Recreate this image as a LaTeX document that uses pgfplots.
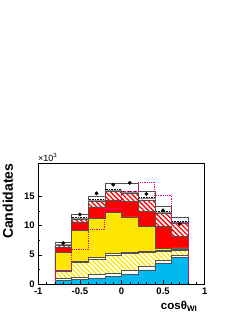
\documentclass[border=0pt]{standalone}
\usepackage{fontspec}
\setmainfont{Liberation Sans}
\usepackage{pgfplots}
\pgfplotsset{compat=1.18}
\usetikzlibrary{patterns.meta}
\definecolor{rootcyan}{RGB}{0,185,240}
\definecolor{rootyellow}{RGB}{255,230,0}
\definecolor{outl}{RGB}{80,80,80}
\begin{document}
\begin{tikzpicture}[x=1pt,y=1pt]
\path[use as bounding box] (0,0) rectangle (245,317);
\begin{axis}[at={(38.3pt,33pt)}, anchor=south west,
 width=166.4pt, height=120.7pt, scale only axis,
 xmin=-1, xmax=1, ymin=0, ymax=20.65,
 xtick={-1,-0.5,0,0.5,1}, xticklabels={-1,-0.5,0,0.5,1}, minor x tick num=4,
 ytick={0,5,10,15}, yticklabels={0,5,10,15}, minor y tick num=1,
 tick align=inside, xtick pos=bottom, ytick pos=left,
 major tick length=4pt, minor tick length=2pt,
 tick style={black, line width=0.5pt},
 axis line style={line width=0.6pt},
 /pgf/number format/assume math mode=true,
 ticklabel style={font=\fontsize{9.5}{10}\selectfont\bfseries},
 xticklabel style={yshift=-0.5pt},
 axis on top,
 hist/.style={const plot, line width=0.5pt},
]
% top white box
\addplot[hist, fill=white, draw=outl] coordinates {(-0.8,7.15) (-0.6,11.9) (-0.4,15.05) (-0.2,17.2) (0,17.3) (0.2,15.8) (0.4,13.3) (0.6,11.4) (0.8,11.4)} \closedcycle;
% dotted line
\addplot[const plot, draw=black, densely dotted, line width=0.6pt] coordinates {(-0.8,6.85) (-0.6,11.4) (-0.4,14.5) (-0.2,16.2) (0,15.9) (0.2,14.8) (0.4,12.5) (0.6,10.8) (0.8,10.8)};
% gray band
\addplot[hist, fill=white, draw=black!45] coordinates {(-0.8,6.75) (-0.6,11.2) (-0.4,14.35) (-0.2,16.0) (0,15.7) (0.2,14.6) (0.4,12.3) (0.6,10.6) (0.8,10.6)} \closedcycle;
% red hatch
\addplot[hist, fill=white, draw=outl, postaction={pattern={Lines[angle=-45,distance=3.4pt,line width=1.3pt]}, pattern color=red}] coordinates {(-0.8,6.65) (-0.6,11.05) (-0.4,14.2) (-0.2,15.8) (0,15.5) (0.2,14.4) (0.4,12.1) (0.6,10.4) (0.8,10.4)} \closedcycle;
% red
\addplot[hist, fill=red, draw=outl] coordinates {(-0.8,6.3) (-0.6,10.55) (-0.4,13.2) (-0.2,14.3) (0,14.1) (0.2,12.4) (0.4,9.8) (0.6,8.2) (0.8,8.2)} \closedcycle;
% yellow
\addplot[hist, fill=rootyellow, draw=outl] coordinates {(-0.8,5.4) (-0.6,9.2) (-0.4,11.2) (-0.2,12.2) (0,11.5) (0.2,9.9) (0.4,6.1) (0.6,6.2) (0.8,6.2)} \closedcycle;
% thin white band
\addplot[hist, fill=white, draw=outl] coordinates {(-0.8,2.4) (-0.6,3.9) (-0.4,4.5) (-0.2,5.2) (0,5.4) (0.2,5.6) (0.4,5.8) (0.6,6.0) (0.8,6.0)} \closedcycle;
% yellow hatch
\addplot[hist, fill=white, draw=outl, postaction={pattern={Lines[angle=-45,distance=3.4pt,line width=1.3pt]}, pattern color=rootyellow}] coordinates {(-0.8,2.2) (-0.6,3.7) (-0.4,4.3) (-0.2,5.0) (0,5.2) (0.2,5.4) (0.4,5.6) (0.6,5.7) (0.8,5.7)} \closedcycle;
% white band
\addplot[hist, fill=white, draw=outl] coordinates {(-0.8,0.95) (-0.6,1.2) (-0.4,1.6) (-0.2,1.9) (0,2.3) (0.2,3.0) (0.4,4.0) (0.6,4.9) (0.8,4.9)} \closedcycle;
% cyan
\addplot[hist, fill=rootcyan, draw=outl] coordinates {(-0.8,0.6) (-0.6,0.8) (-0.4,1.0) (-0.2,1.3) (0,1.7) (0.2,2.4) (0.4,3.6) (0.6,4.6) (0.8,4.6)} \closedcycle;
% magenta dotted
\addplot[const plot, draw=magenta, densely dotted, line width=0.8pt] coordinates {(-1,0) (-0.8,2.4) (-0.6,5.9) (-0.4,9.3) (-0.2,13.0) (0,15.9) (0.2,17.4) (0.4,15.2) (0.6,10.6) (0.8,0) (1,0)};
% data
\addplot[only marks, mark=*, mark size=1.7pt, black] coordinates {(-0.7,7.0) (-0.5,11.9) (-0.3,15.5) (-0.1,17.0) (0.1,17.3) (0.3,15.4) (0.5,12.6) (0.7,10.3)};
\end{axis}
\node[anchor=base west, inner sep=0pt, font=\fontsize{9}{10}\selectfont] at (38,155.5) {×10\textsuperscript{3}};
\node[rotate=90, anchor=south east, inner sep=0pt, font=\fontsize{14}{16}\selectfont\bfseries] at (13.3,153.7) {Candidates};
\node[anchor=base east, inner sep=0pt, font=\fontsize{11.5}{13}\selectfont\bfseries] at (197,8) {cosθ\raisebox{-0.25em}{\fontsize{8}{9}\selectfont WI}};
\end{tikzpicture}
\end{document}
